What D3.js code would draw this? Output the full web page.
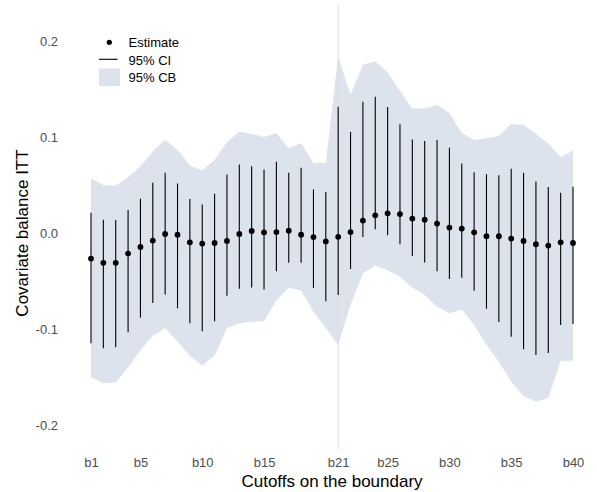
<!DOCTYPE html>
<html>
<head>
<meta charset="utf-8">
<script src="https://cdn.jsdelivr.net/npm/d3@7"></script>
<style>
  html, body { margin: 0; padding: 0; background: #ffffff; }
  svg { display: block; font-family: "Liberation Sans", Arial, sans-serif; }
</style>
</head>
<body>
<svg id="chart" width="597" height="492"></svg>
<script>
// Cutoff points along the boundary
const cutoffs = d3.range(1, 41).map(i => "b" + i);

// Point estimates of the covariate balance ITT at each cutoff
const estimate = [
  -0.0266, -0.0311, -0.0311, -0.0214, -0.0145, -0.0079, -0.0010, -0.0017, -0.0097, -0.0110,
  -0.0104, -0.0083, -0.0010, 0.0021, 0.0007, 0.0010, 0.0024, -0.0017, -0.0042, -0.0088,
  -0.0040, 0.0010, 0.0129, 0.0184, 0.0205, 0.0197, 0.0150, 0.0139, 0.0098, 0.0056,
  0.0046, 0.0007, -0.0034, -0.0034, -0.0058, -0.0083, -0.0117, -0.0131, -0.0097, -0.0104
];

// Pointwise 95% confidence intervals
const ciLower = [
  -0.1149, -0.1200, -0.1190, -0.1034, -0.0879, -0.0730, -0.0640, -0.0785, -0.0941, -0.1024,
  -0.0920, -0.0654, -0.0581, -0.0567, -0.0588, -0.0398, -0.0311, -0.0311, -0.0571, -0.0712,
  -0.0645, -0.0375, -0.0042, 0.0040, -0.0024, -0.0118, -0.0239, -0.0308, -0.0398, -0.0478,
  -0.0467, -0.0602, -0.0789, -0.0927, -0.1080, -0.1211, -0.1270, -0.1249, -0.0958, -0.0948
];
const ciUpper = [
  0.0212, 0.0139, 0.0135, 0.0239, 0.0357, 0.0523, 0.0627, 0.0516, 0.0353, 0.0298,
  0.0410, 0.0610, 0.0713, 0.0696, 0.0661, 0.0741, 0.0627, 0.0679, 0.0454, 0.0426,
  0.1316, 0.1053, 0.1368, 0.1420, 0.1313, 0.1132, 0.0973, 0.0959, 0.0970, 0.0887,
  0.0724, 0.0633, 0.0613, 0.0602, 0.0669, 0.0627, 0.0537, 0.0478, 0.0420, 0.0482
];

// Uniform 95% confidence band
const cbLower = [
  -0.1500, -0.1564, -0.1557, -0.1400, -0.1220, -0.1070, -0.0990, -0.1130, -0.1280, -0.1380,
  -0.1277, -0.0993, -0.0941, -0.0924, -0.0920, -0.0700, -0.0571, -0.0600, -0.0820, -0.0990,
  -0.1166, -0.0750, -0.0420, -0.0338, -0.0387, -0.0457, -0.0567, -0.0647, -0.0768, -0.0837,
  -0.0796, -0.0958, -0.1166, -0.1340, -0.1547, -0.1700, -0.1755, -0.1720, -0.1332, -0.1332
];
const cbUpper = [
  0.0570, 0.0500, 0.0495, 0.0580, 0.0696, 0.0852, 0.0970, 0.0866, 0.0703, 0.0651,
  0.0762, 0.0945, 0.1056, 0.1032, 0.1000, 0.1042, 0.0883, 0.0935, 0.0729, 0.0732,
  0.1840, 0.1440, 0.1752, 0.1790, 0.1672, 0.1480, 0.1298, 0.1298, 0.1333, 0.1250,
  0.1042, 0.0970, 0.0987, 0.1011, 0.1136, 0.1125, 0.1032, 0.0935, 0.0789, 0.0859
];

// Axis ticks
const xTickLabels = ["b1", "b5", "b10", "b15", "b21", "b25", "b30", "b35", "b40"];
const yTickValues = [-0.2, -0.1, 0.0, 0.1, 0.2];
const markedCutoff = "b21";

const rows = cutoffs.map((c, i) => ({
  cutoff: c, est: estimate[i], lo: ciLower[i], hi: ciUpper[i], cbLo: cbLower[i], cbHi: cbUpper[i]
}));

const svg = d3.select("#chart");

const x = d3.scalePoint().domain(cutoffs).range([91, 573]);
const y = d3.scaleLinear().domain([-0.2, 0.2]).range([425, 41]);

const bandColor = "#dce3ed";
const tickColor = "#4d4d4d";

// Confidence band
const area = d3.area()
  .x(d => x(d.cutoff))
  .y0(d => y(d.cbLo))
  .y1(d => y(d.cbHi));
svg.append("path")
  .datum(rows)
  .attr("d", area)
  .attr("fill", bandColor);

// Reference line at the marked cutoff
svg.append("line")
  .attr("x1", x(markedCutoff)).attr("x2", x(markedCutoff))
  .attr("y1", 5).attr("y2", 449)
  .attr("stroke", "#dcdcdc")
  .attr("stroke-width", 1);

// Confidence intervals
svg.append("g")
  .selectAll("line")
  .data(rows)
  .join("line")
  .attr("x1", d => x(d.cutoff)).attr("x2", d => x(d.cutoff))
  .attr("y1", d => y(d.lo)).attr("y2", d => y(d.hi))
  .attr("stroke", "#000")
  .attr("stroke-width", 1.1);

// Point estimates
svg.append("g")
  .selectAll("circle")
  .data(rows)
  .join("circle")
  .attr("cx", d => x(d.cutoff))
  .attr("cy", d => y(d.est))
  .attr("r", 2.9)
  .attr("fill", "#000");

// Y axis (plain hyphen for negative labels)
const fmt = d3.format(".1f");
const yAxis = svg.append("g")
  .attr("transform", "translate(58,0)")
  .call(d3.axisLeft(y).tickValues(yTickValues)
    .tickFormat(d => fmt(d).replace("\u2212", "-"))
    .tickSize(0).tickPadding(0));
yAxis.select(".domain").remove();
yAxis.selectAll("text")
  .attr("fill", tickColor)
  .style("font-size", "13px")
  .style("font-family", "Liberation Sans, Arial, sans-serif");

// X axis
const xAxis = svg.append("g")
  .attr("transform", "translate(0,452)")
  .call(d3.axisBottom(x).tickValues(xTickLabels).tickSize(0).tickPadding(5.5));
xAxis.select(".domain").remove();
xAxis.selectAll("text")
  .attr("fill", tickColor)
  .style("font-size", "13px")
  .style("font-family", "Liberation Sans, Arial, sans-serif");

// Axis titles
svg.append("text")
  .attr("x", 332).attr("y", 487)
  .attr("text-anchor", "middle")
  .attr("fill", "#000")
  .style("font-size", "17px")
  .text("Cutoffs on the boundary");

svg.append("text")
  .attr("transform", "translate(28,233) rotate(-90)")
  .attr("text-anchor", "middle")
  .attr("fill", "#000")
  .style("font-size", "17px")
  .text("Covariate balance ITT");

// Legend
const legend = svg.append("g").style("font-size", "13px");
legend.append("circle").attr("cx", 109.3).attr("cy", 42.3).attr("r", 2.6).attr("fill", "#000");
legend.append("text").attr("x", 128.5).attr("y", 47).text("Estimate");
legend.append("line").attr("x1", 99).attr("x2", 117.5).attr("y1", 59.3).attr("y2", 59.3)
  .attr("stroke", "#000").attr("stroke-width", 1.1);
legend.append("text").attr("x", 128.5).attr("y", 64.5).text("95% CI");
legend.append("rect").attr("x", 99).attr("y", 68.5).attr("width", 21).attr("height", 17.5).attr("fill", bandColor);
legend.append("text").attr("x", 128.5).attr("y", 82).text("95% CB");
</script>
</body>
</html>
